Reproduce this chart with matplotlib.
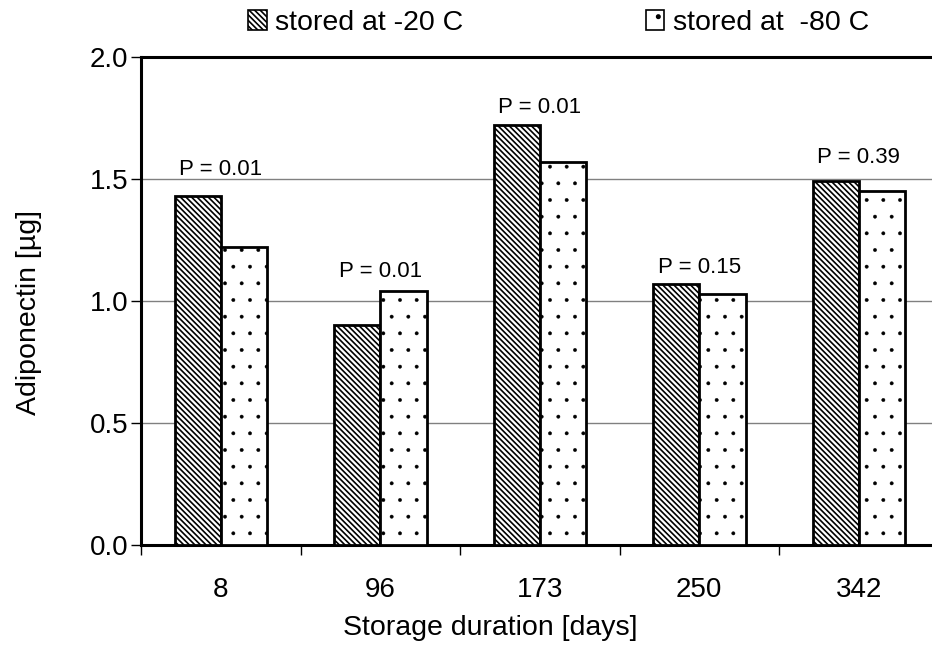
import numpy as np
import matplotlib
matplotlib.use("Agg")
import matplotlib.pyplot as plt
from matplotlib.patches import Patch

plt.rcParams['font.family'] = ['Liberation Sans', 'DejaVu Sans']

# data
days = ['8', '96', '173', '250', '342']
stored_20 = [1.43, 0.90, 1.72, 1.07, 1.49]
stored_80 = [1.22, 1.04, 1.57, 1.03, 1.45]
p_values = ['P = 0.01', 'P = 0.01', 'P = 0.01', 'P = 0.15', 'P = 0.39']
# gap (points) between bar top and label baseline, as placed in the original
p_offsets = [15.5, 10, 8.6, 7.9, 13.5]

fig = plt.figure(figsize=(9.32, 6.57), dpi=100)
ax = fig.add_axes([0.1513, 0.1705, 0.8557, 0.7427])

x = np.arange(len(days))
w = 0.29
HATCH_20 = '\\\\\\\\\\\\'
HATCH_80 = '.'

plt.rcParams['hatch.linewidth'] = 1.2
ax.bar(x - w/2, stored_20, w, facecolor='white', edgecolor='black',
       hatch=HATCH_20, linewidth=2.0, zorder=3)
plt.rcParams['hatch.linewidth'] = 0.3
ax.bar(x + w/2, stored_80, w, facecolor='white', edgecolor='black',
       hatch=HATCH_80, linewidth=2.0, zorder=3)

# P-value labels above each pair
for i in range(len(days)):
    top = max(stored_20[i], stored_80[i])
    ax.annotate(p_values[i], (i, top), xytext=(0, p_offsets[i]), textcoords='offset points',
                ha='center', va='baseline', fontsize=16)

ax.set_xlim(-0.5, len(days) - 0.5)
ax.set_ylim(0, 2.0)
ax.set_yticks([0, 0.5, 1.0, 1.5, 2.0])
ax.set_yticklabels(['0.0', '0.5', '1.0', '1.5', '2.0'])
ax.set_xticks(x)
ax.set_xticklabels(days)
ax.set_xticks(np.arange(-0.5, len(days), 1.0), minor=True)

ax.tick_params(axis='y', direction='out', length=7, width=1, labelsize=20, pad=2)
ax.tick_params(axis='x', which='major', length=0, labelsize=20, pad=23)
ax.tick_params(axis='x', which='minor', direction='out', length=7, width=1)

ax.grid(axis='y', color='#808080', linewidth=1.0, zorder=0)
ax.set_axisbelow(True)
for side in ['left', 'bottom', 'top']:
    ax.spines[side].set_linewidth(2.2)
ax.spines['right'].set_visible(False)

ax.set_ylabel('Adiponectin [µg]', fontsize=20.5, va='center')
ax.yaxis.set_label_coords(-0.141, 0.477)
ax.set_xlabel('Storage duration [days]', fontsize=20.5, va='center')
ax.xaxis.set_label_coords(0.4376, -0.17)

plt.rcParams['hatch.linewidth'] = 1.2
handles = [Patch(facecolor='white', edgecolor='black', hatch=HATCH_20, linewidth=1.2),
           Patch(facecolor='white', edgecolor='black', hatch=HATCH_80, linewidth=1.2)]
fig.legend(handles, ['stored at -20 C', 'stored at  -80 C'], ncol=2,
           loc='center left', bbox_to_anchor=(248/932, 1 - 23/657), frameon=False,
           fontsize=20.5, handlelength=0.65, handleheight=0.65, handletextpad=0.3,
           columnspacing=6.4, borderpad=0, borderaxespad=0)

fig.savefig('out.png', dpi=100)
